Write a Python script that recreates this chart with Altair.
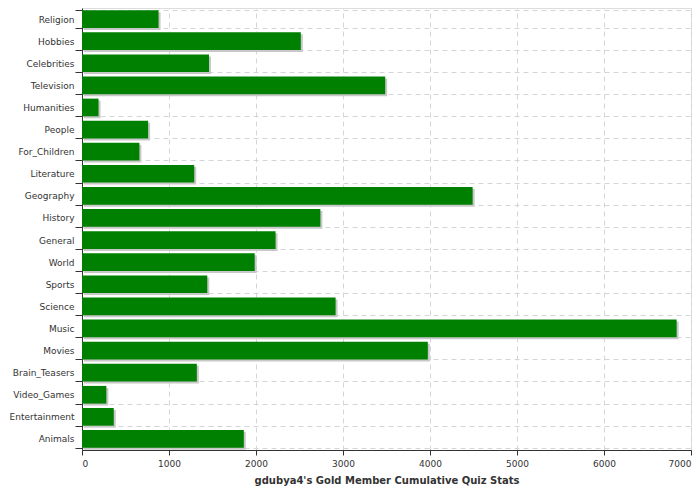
import altair as alt
import pandas as pd

categories = ["Religion", "Hobbies", "Celebrities", "Television", "Humanities", "People",
              "For_Children", "Literature", "Geography", "History", "General", "World",
              "Sports", "Science", "Music", "Movies", "Brain_Teasers", "Video_Games",
              "Entertainment", "Animals"]
values = [880, 2515, 1460, 3485, 190, 760, 660, 1290, 4490, 2740, 2225, 1985,
          1440, 2915, 6835, 3975, 1320, 280, 365, 1860]
x_ticks = [0, 1000, 2000, 3000, 4000, 5000, 6000, 7000]

df = pd.DataFrame({"category": categories, "value": values})

font = "DejaVu Sans"
grid_color = "#d2d6da"

y_scale = alt.Scale(paddingInner=0.2, paddingOuter=0.1)
x_scale = alt.Scale(domain=[0, 7000], nice=False)

y_enc = alt.Y("category:N", sort=categories, scale=y_scale,
              axis=alt.Axis(title=None, tickBand="extent", grid=True,
                            labelFont=font, labelFontSize=9, labelLimit=80,
                            labelColor="#333333", tickColor="#333333", tickSize=7,
                            domainColor="#333333", gridColor=grid_color, gridDash=[5, 4],
                            labelPadding=1))
x_enc = alt.X("value:Q", scale=x_scale,
              axis=alt.Axis(values=x_ticks, format="d",
                            title="gdubya4's Gold Member Cumulative Quiz Stats",
                            titleFont=font, titleFontSize=10, titleFontWeight="bold",
                            titleColor="#333333", titlePadding=7,
                            labelFont=font, labelFontSize=9, labelColor="#333333",
                            tickColor="#333333", tickSize=5, domainColor="#333333",
                            gridColor=grid_color, gridDash=[5, 4], labelPadding=4))

shadow = alt.Chart(df).mark_bar(color="#c8c8c8", xOffset=2, yOffset=2).encode(
    x=alt.X("value:Q", scale=x_scale),
    y=alt.Y("category:N", sort=categories, scale=y_scale),
)
bars = alt.Chart(df).mark_bar(color="#008000").encode(x=x_enc, y=y_enc)

chart = alt.layer(shadow, bars).properties(
    width=609, height=442,
    autosize=alt.AutoSizeParams(type="none"),
    padding={"left": 74, "top": 0, "right": 1, "bottom": 42},
).configure_view(stroke="#333333", strokeWidth=1).configure(background="white")

chart.save("out.html", embed_options={"renderer": "svg", "actions": False})
